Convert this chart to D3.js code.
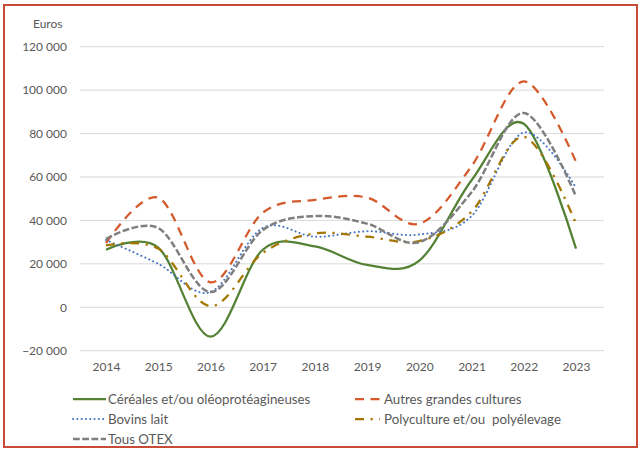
<!DOCTYPE html>
<html>
  <head>
    <meta charset="utf-8">
    <title>Revenus par OTEX</title>
    <script src="https://cdn.jsdelivr.net/npm/d3@7"></script>
    <style>
      html, body { margin: 0; background: #fff; }
      text { font-family: Lato, "Noto Sans", sans-serif; fill: #595959; }
    </style>
  </head>
  <body>
    <script>
    var years = ["2014","2015","2016","2017","2018","2019","2020","2021","2022","2023"];
    var cereales = [26500, 27500, -13500, 26500, 28000, 19500, 21500, 58500, 84500, 27000];
    var autres   = [29500, 50500, 11500, 43500, 49500, 50500, 38500, 65000, 104000, 67000];
    var bovins   = [31000, 20000, 7000, 36500, 32500, 35000, 33500, 42000, 80500, 55000];
    var poly     = [28500, 27000, 500, 25000, 34000, 32500, 30500, 44000, 78500, 38500];
    var tous     = [31500, 36500, 7000, 35500, 42000, 38500, 30000, 53000, 89500, 51000];
    var yTicks = [-20000, 0, 20000, 40000, 60000, 80000, 100000, 120000];

    var series = [
      {name: "Céréales et/ou oléoprotéagineuses", values: cereales, color: "#548235", dash: null, w: 2.25},
      {name: "Autres grandes cultures", values: autres, color: "#D45A2C", dash: "9,6.5", w: 2.25},
      {name: "Bovins lait", values: bovins, color: "#4472C4", dash: "0.1,4.2", w: 2, cap: "round"},
      {name: "Polyculture et/ou  polyélevage", values: poly, color: "#A47600", dash: "9,6.5,2.25,6.5", w: 2.25},
      {name: "Tous OTEX", values: tous, color: "#7F7F7F", dash: "6.75,2.5", w: 2.5}
    ];

    var svg = d3.select("body").append("svg")
        .attr("width", 643)
        .attr("height", 451);

    svg.append("rect")
        .attr("x", 4).attr("y", 5)
        .attr("width", 633).attr("height", 442)
        .attr("fill", "#fff")
        .attr("stroke", "#C84B3A")
        .attr("stroke-width", 2);

    var x = d3.scalePoint().domain(years).range([106, 576]);
    var y = d3.scaleLinear().domain([-20000, 120000]).range([350.7, 46.7]);

    var fmt = function(v) { return d3.format(",")(v).replace(/,/g, " "); };

    // gridlines
    svg.append("g").selectAll("line")
      .data(yTicks).enter().append("line")
        .attr("x1", 80).attr("x2", 604)
        .attr("y1", function(d) { return y(d); })
        .attr("y2", function(d) { return y(d); })
        .attr("stroke", "#d9d9d9")
        .attr("stroke-width", 1);

    var yAxis = d3.axisLeft(y).tickValues(yTicks).tickSize(0).tickPadding(0).tickFormat(fmt);
    var gy = svg.append("g").attr("transform", "translate(67,0)").call(yAxis);
    gy.select(".domain").remove();
    gy.selectAll("text").attr("font-size", "12px").style("font-family", "Lato, sans-serif").attr("fill", "#595959");

    var xAxis = d3.axisBottom(x).tickSize(0).tickPadding(0);
    var gx = svg.append("g").attr("transform", "translate(0,362)").call(xAxis);
    gx.select(".domain").remove();
    gx.selectAll("text").attr("font-size", "12px").style("font-family", "Lato, sans-serif").attr("fill", "#595959");

    svg.append("text")
        .attr("x", 33).attr("y", 28)
        .attr("font-size", "12px")
        .text("Euros");

    var line = d3.line()
        .x(function(d, i) { return x(years[i]); })
        .y(function(d) { return y(d); })
        .curve(d3.curveCatmullRom.alpha(0));

    series.forEach(function(s) {
      svg.append("path")
        .attr("d", line(s.values))
        .attr("fill", "none")
        .attr("stroke", s.color)
        .attr("stroke-width", s.w)
        .attr("stroke-linecap", s.cap || "butt")
        .attr("stroke-dasharray", s.dash);
    });

    // legend
    var legPos = [[73, 399], [355, 399], [73, 419], [355, 419], [73, 439]];
    series.forEach(function(s, i) {
      var p = legPos[i];
      svg.append("line")
        .attr("x1", p[0]).attr("x2", p[0] + (i % 2 ? 25 : 33))
        .attr("y1", p[1]).attr("y2", p[1])
        .attr("stroke", s.color)
        .attr("stroke-width", s.w)
        .attr("stroke-linecap", s.cap || "butt")
        .attr("stroke-dasharray", s.dash);
      svg.append("text")
        .attr("x", p[0] + (i % 2 ? 29 : 35)).attr("y", p[1] + 4.5)
        .attr("font-size", "13.3px")
        .style("white-space", "pre")
        .text(s.name);
    });
    </script>
  </body>
</html>
